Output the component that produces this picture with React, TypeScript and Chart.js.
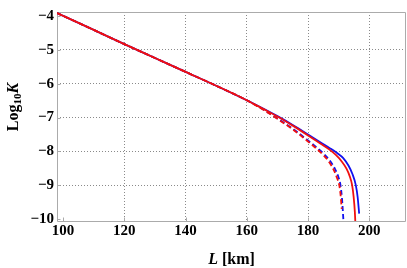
import React, { useEffect, useRef } from "react";
import { Chart, registerables } from "chart.js";

Chart.register(...registerables);

// Shared part of all four curves
const commonL = [98, 110, 120, 130, 140, 150, 160];
const commonK = [-3.91, -4.41, -4.83, -5.24, -5.65, -6.06, -6.49];

// Tails
const blueSolidL = [165, 170, 175, 180, 184, 187, 189.5, 191.5, 193.2, 194.5, 195.6, 196.2, 196.7];
const blueSolidK = [-6.72, -6.96, -7.22, -7.5, -7.73, -7.9, -8.05, -8.2, -8.42, -8.67, -9.0, -9.35, -9.84];

const redSolidL = [165, 170, 175, 180, 184, 187, 189, 191, 192.6, 193.7, 194.4, 194.9, 195.3, 195.5];
const redSolidK = [-6.73, -6.97, -7.24, -7.53, -7.77, -7.95, -8.1, -8.3, -8.52, -8.76, -9.0, -9.35, -9.8, -10.2];

const blueDashL = [165, 170, 175, 180, 183, 185, 187, 188.8, 190, 190.6, 191.1, 191.6];
const blueDashK = [-6.74, -7.03, -7.33, -7.68, -7.9, -8.06, -8.26, -8.52, -8.78, -9.0, -9.4, -10.1];

const redDashL = [165, 170, 175, 180, 183, 185, 187, 188.5, 189.6, 190.2, 190.7, 191.0];
const redDashK = [-6.75, -7.04, -7.35, -7.71, -7.94, -8.11, -8.33, -8.57, -8.82, -9.0, -9.35, -9.7];

const xTicks = [100, 120, 140, 160, 180, 200];
const yTicks = [-10, -9, -8, -7, -6, -5, -4];

const xMin = 98;
const xMax = 212;
const yMin = -10.06;
const yMax = -3.88;

function pts(l1: number[], k1: number[], l2: number[], k2: number[]) {
  const L = l1.concat(l2);
  const K = k1.concat(k2);
  return L.map((x, i) => ({ x, y: K[i] }));
}

const FRAME = "#ababab";
const GRID = "#8a8a8a";
const FONT = '"Liberation Serif", "Times New Roman", serif';
const BLUE = "#1010f0";
const RED = "#f01010";

type Part = { t: string; font: string; dy?: number };

function drawRich(ctx: CanvasRenderingContext2D, parts: Part[], cx: number, cy: number) {
  let total = 0;
  const widths = parts.map((p) => {
    ctx.font = p.font;
    const w = ctx.measureText(p.t).width;
    total += w;
    return w;
  });
  let x = cx - total / 2;
  ctx.textBaseline = "alphabetic";
  ctx.textAlign = "left";
  parts.forEach((p, i) => {
    ctx.font = p.font;
    ctx.fillText(p.t, x, cy + (p.dy || 0));
    x += widths[i];
  });
}

const framePlugin = {
  id: "frameAndTitles",
  beforeDatasetsDraw(chart: any) {
    const { ctx, chartArea } = chart;
    const { left, right, top, bottom } = chartArea;
    const xs = chart.scales.x;
    const ys = chart.scales.y;
    ctx.save();
    ctx.strokeStyle = FRAME;
    ctx.lineWidth = 1;
    ctx.beginPath();
    ctx.rect(Math.round(left) + 0.5, Math.round(top) + 0.5, Math.round(right - left) - 1, Math.round(bottom - top));
    ctx.stroke();
    ctx.beginPath();
    xTicks.forEach((v) => {
      const px = Math.round(xs.getPixelForValue(v)) + 0.5;
      ctx.moveTo(px, bottom);
      ctx.lineTo(px, bottom - 3.5);
    });
    yTicks.forEach((v) => {
      const py = Math.round(ys.getPixelForValue(v)) + 0.5;
      ctx.moveTo(left, py);
      ctx.lineTo(left + 3.5, py);
    });
    ctx.stroke();
    ctx.restore();
  },
  afterDraw(chart: any) {
    const { ctx, chartArea } = chart;
    ctx.save();
    ctx.fillStyle = "#000";
    const cx = (chartArea.left + chartArea.right) / 2;
    drawRich(
      ctx,
      [
        { t: "L", font: `italic bold 16px ${FONT}` },
        { t: " [km]", font: `bold 16px ${FONT}` },
      ],
      cx,
      264
    );
    ctx.translate(18, 107);
    ctx.rotate(-Math.PI / 2);
    drawRich(
      ctx,
      [
        { t: "Log", font: `bold 16px ${FONT}` },
        { t: "10", font: `bold 11px ${FONT}`, dy: 3 },
        { t: "K", font: `italic bold 16px ${FONT}` },
      ],
      0,
      0
    );
    ctx.restore();
  },
};

const lineStyle = {
  borderWidth: 1.8,
  pointRadius: 0,
  fill: false,
  cubicInterpolationMode: "monotone" as const,
};

export default function App() {
  const ref = useRef<HTMLCanvasElement | null>(null);
  useEffect(() => {
    if (!ref.current) return;
    const chart = new Chart(ref.current, {
      type: "line",
      data: {
        datasets: [
          // dataset 0 is drawn on top
          { ...lineStyle, data: pts(commonL, commonK, redSolidL, redSolidK), borderColor: RED },
          { ...lineStyle, data: pts(commonL, commonK, redDashL, redDashK), borderColor: RED, borderDash: [5, 3] },
          { ...lineStyle, data: pts(commonL, commonK, blueDashL, blueDashK), borderColor: BLUE, borderDash: [5, 3] },
          { ...lineStyle, data: pts(commonL, commonK, blueSolidL, blueSolidK), borderColor: BLUE },
        ],
      },
      options: {
        animation: false,
        responsive: false,
        maintainAspectRatio: false,
        layout: { padding: { top: 6, right: 1, left: 0, bottom: 0 } },
        plugins: { legend: { display: false }, tooltip: { enabled: false } },
        scales: {
          x: {
            type: "linear",
            min: xMin,
            max: xMax,
            afterBuildTicks: (s: any) => {
              s.ticks = xTicks.map((v) => ({ value: v }));
            },
            afterFit: (s: any) => {
              s.height = 47;
            },
            grid: {
              drawTicks: false,
              color: (c: any) => (c.tick && c.tick.value === 100 ? "rgba(0,0,0,0)" : GRID),
              lineWidth: 1,
            },
            border: { display: false, dash: [1, 2] },
            ticks: {
              color: "#000",
              font: { family: FONT, size: 15, weight: "bold" },
              padding: 1,
              maxRotation: 0,
              callback: (v: any) => String(v),
            },
          },
          y: {
            type: "linear",
            min: yMin,
            max: yMax,
            afterBuildTicks: (s: any) => {
              s.ticks = yTicks.map((v) => ({ value: v }));
            },
            afterFit: (s: any) => {
              s.width = 57;
            },
            grid: {
              drawTicks: false,
              color: (c: any) =>
                c.tick && (c.tick.value === -10 || c.tick.value === -4) ? "rgba(0,0,0,0)" : GRID,
              lineWidth: 1,
            },
            border: { display: false, dash: [1, 2] },
            ticks: {
              color: "#000",
              font: { family: FONT, size: 15, weight: "bold" },
              padding: 3,
              callback: (v: any) => (v < 0 ? "\u2212" + Math.abs(v) : String(v)),
            },
          },
        },
      },
      plugins: [framePlugin],
    });
    return () => chart.destroy();
  }, []);
  return (
    <div style={{ position: "fixed", left: 0, top: 0, width: 407, height: 268, background: "#fff" }}>
      <canvas ref={ref} width={407} height={268} style={{ display: "block", width: 407, height: 268 }} />
    </div>
  );
}
